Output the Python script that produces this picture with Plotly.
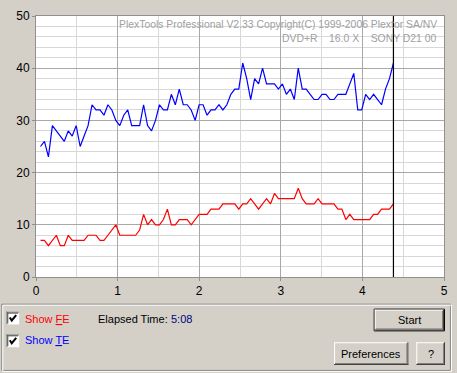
import plotly.graph_objects as go

# ---------------- data ----------------
# sampling positions along the disc (GB)
x_start = 0.055
x_step = 0.0486
te_values = [25, 26, 23, 29, 28, 27, 26, 28, 27, 29, 25, 27, 29, 33, 32, 32, 31, 33, 32, 30,
             29, 31, 32, 29, 29, 29, 33, 29, 28, 30, 33, 32, 32, 35, 33, 36, 33, 33, 32, 30,
             33, 33, 31, 32, 32, 33, 32, 33, 35, 36, 36, 41, 38, 34, 38, 37, 40, 37, 37, 37,
             36, 37, 35, 36, 34, 40, 36, 36, 35, 34, 34, 35, 35, 34, 34, 35, 35, 35, 37, 39,
             32, 32, 35, 34, 35, 34, 33, 36, 38, 41]
fe_values = [7, 7, 6, 7, 8, 6, 6, 8, 7, 7, 7, 7, 8, 8, 8, 7, 7, 8, 9, 10,
             8, 8, 8, 8, 8, 9, 12, 10, 11, 10, 10, 11, 13, 10, 10, 11, 11, 11, 10, 11,
             12, 12, 12, 13, 13, 13, 14, 14, 14, 14, 13, 14, 14, 15, 14, 13, 14, 15, 14, 16,
             15, 15, 15, 15, 15, 17, 15, 14, 14, 14, 15, 14, 14, 14, 14, 13, 13, 11, 12, 11,
             11, 11, 11, 11, 12, 12, 13, 13, 13, 14]
x_gb = [round(x_start + i * x_step, 4) for i in range(len(te_values))]
x_ticks = [0, 1, 2, 3, 4, 5]
y_ticks = [0, 10, 20, 30, 40, 50]

title_line1 = "PlexTools Professional V2.33 Copyright(C) 1999-2006 Plextor SA/NV"
title_line2 = "DVD+R    16.0 X    SONY D21 00"
elapsed = "5:08"

# ---------------- geometry helpers ----------------
W, H = 457, 373
PL, PR, PT, PB = 36, 448, 13, 277
FONT = "Liberation Sans, Arial, sans-serif"
BG = "#d4d0c8"


def px(x):
    return (x - PL) / (PR - PL)


def py(y):
    return (PB - y) / (PB - PT)


shapes = []
annotations = []


def hline(x0, x1, y, color, width=1):
    shapes.append(dict(type="line", xref="paper", yref="paper", x0=px(x0), x1=px(x1),
                       y0=py(y), y1=py(y), line=dict(color=color, width=width)))


def vline(x, y0, y1, color, width=1):
    shapes.append(dict(type="line", xref="paper", yref="paper", x0=px(x), x1=px(x),
                       y0=py(y0), y1=py(y1), line=dict(color=color, width=width)))


def rect(x0, y0, x1, y1, fill, line_color=None, width=1):
    shapes.append(dict(type="rect", xref="paper", yref="paper", x0=px(x0), x1=px(x1),
                       y0=py(y1), y1=py(y0), fillcolor=fill,
                       line=dict(color=line_color or fill, width=width if line_color else 0)))


def text(x, y, s, color="black", size=11, xanchor="left"):
    annotations.append(dict(xref="paper", yref="paper", x=px(x), y=py(y), text=s,
                            showarrow=False, xanchor=xanchor, yanchor="middle",
                            font=dict(family=FONT, size=size, color=color)))


def button(x0, y0, x1, y1, label, default=False):
    rect(x0, y0, x1, y1, BG)
    if default:
        rect(x0 + 0.5, y0 + 0.5, x1 - 0.5, y1 - 0.5, BG, "black", 1)
        x0, y0, x1, y1 = x0 + 1, y0 + 1, x1 - 1, y1 - 1
    hline(x0, x1, y0 + 0.5, "white")
    vline(x0 + 0.5, y0, y1, "white")
    hline(x0, x1, y1 - 0.5, "#404040")
    vline(x1 - 0.5, y0, y1, "#404040")
    hline(x0 + 1, x1 - 1, y1 - 1.5, "#808080")
    vline(x1 - 1.5, y0 + 1, y1 - 1, "#808080")
    text((x0 + x1) / 2, (y0 + y1) / 2, label, size=11, xanchor="center")


def checkbox(x0, y0):
    rect(x0, y0, x0 + 13, y0 + 13, "white")
    hline(x0, x0 + 13, y0 + 0.5, "#808080")
    vline(x0 + 0.5, y0, y0 + 13, "#808080")
    hline(x0 + 1, x0 + 12, y0 + 1.5, "#404040")
    vline(x0 + 1.5, y0 + 1, y0 + 12, "#404040")
    shapes.append(dict(type="path", xref="paper", yref="paper",
                       path="M {} {} L {} {} L {} {}".format(px(x0 + 3.5), py(y0 + 6),
                                                           px(x0 + 5.5), py(y0 + 9),
                                                           px(x0 + 10), py(y0 + 3.5)),
                       line=dict(color="black", width=2)))


# ---------------- figure ----------------
fig = go.Figure()
fig.add_trace(go.Scatter(x=x_gb, y=te_values, mode="lines", name="TE",
                         line=dict(color="#0000ff", width=1.2), hoverinfo="skip"))
fig.add_trace(go.Scatter(x=x_gb, y=fe_values, mode="lines", name="FE",
                         line=dict(color="#ff0000", width=1.2), hoverinfo="skip"))

# watermark text inside plot
text(443, 22, title_line1, color="#a0a0a0", size=10.4, xanchor="right")
text(443, 36, title_line2, color="#a0a0a0", size=10.4, xanchor="right")

# current position marker
shapes.append(dict(type="line", xref="x", yref="paper", x0=x_gb[-1], x1=x_gb[-1],
                   y0=0, y1=1, line=dict(color="black", width=1.2), layer="above"))

# bottom panel (etched frame)
rect(1.5, 304.5, 454.5, 371.5, "rgba(0,0,0,0)", "#808080", 1)
rect(2.5, 305.5, 455.5, 372.5, "rgba(0,0,0,0)", "white", 1)

checkbox(6, 312)
checkbox(6, 335)
text(23, 319, "Show <u>F</u>E", color="#ff0000", size=11)
text(23, 341, "Show <u>T</u>E", color="#0000ff", size=11)
text(97, 319, "Elapsed Time:", color="black", size=11)
text(170, 319, elapsed, color="#000080", size=11)

button(377, 309, 449, 332, "Start", default=True)
button(337, 343, 412, 366, "Preferences")
button(420, 343, 449, 366, "?")

axis_common = dict(showgrid=True, gridcolor="#a8a8a8", gridwidth=1, zeroline=False,
                   showline=True, linecolor="#909090", linewidth=1, mirror=True,
                   ticks="outside", ticklen=3, tickcolor="#909090",
                   tickfont=dict(family=FONT, size=12, color="black"), fixedrange=True)

fig.update_layout(
    width=W, height=H,
    margin=dict(l=PL, r=W - PR, t=PT, b=H - PB),
    paper_bgcolor=BG, plot_bgcolor="white",
    showlegend=False,
    xaxis=dict(range=[0, 5], tickvals=x_ticks,
               minor=dict(dtick=0.5, showgrid=True, gridcolor="#d8d8d8"),
               **axis_common),
    yaxis=dict(range=[0, 50], tickvals=y_ticks,
               minor=dict(dtick=2, showgrid=True, gridcolor="#d8d8d8"),
               **axis_common),
    shapes=shapes,
    annotations=annotations,
)

fig.write_html("out.html", config={"displayModeBar": False})

# remove the browser's default page margin so the figure sits at (0, 0)
with open("out.html", "r", encoding="utf-8") as f:
    html = f.read()
html = html.replace("<head>", "<head><style>html,body{margin:0;padding:0;overflow:hidden;background:%s}</style>" % BG, 1)
with open("out.html", "w", encoding="utf-8") as f:
    f.write(html)
